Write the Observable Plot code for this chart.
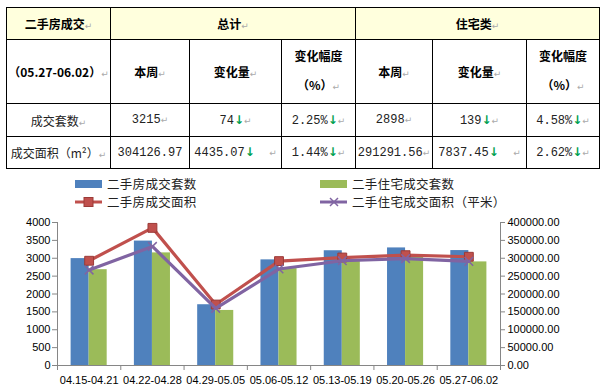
<!DOCTYPE html>
<html>
<head>
<meta charset="utf-8">
<script src="https://cdn.jsdelivr.net/npm/d3@7"></script>
<script src="https://cdn.jsdelivr.net/npm/@observablehq/plot@0.6"></script>
<style>
  html, body { margin: 0; padding: 0; background: #fff; width: 603px; height: 390px; overflow: hidden; }
  #tbl { position: absolute; left: 6px; top: 7px; border-collapse: collapse; table-layout: fixed; width: 593px; }
  #tbl td { border: 1px solid #000; padding: 0; text-align: center; vertical-align: middle; overflow: hidden; white-space: nowrap; }
  #tbl .hd { background: #FFFFDD; font-family: "Noto Sans CJK SC", sans-serif; font-weight: bold; font-size: 12px; color: #000; }
  #tbl .sub { font-family: "Noto Sans CJK SC", sans-serif; font-weight: bold; font-size: 12px; color: #000; }
  #tbl .val { font-family: "Liberation Mono", "Noto Sans CJK SC", monospace; font-size: 12px; color: #222; }
  #tbl .lab { font-family: "Noto Sans CJK SC", sans-serif; font-size: 12px; color: #222; }
  .pm { color: #aaa; font-size: 9px; font-weight: normal; font-family: "DejaVu Sans", sans-serif; }
  .dn { color: #00A050; font-weight: bold; font-family: "DejaVu Sans", sans-serif; font-size: 12px; }
  .lg { position: absolute; font-family: "Noto Sans CJK SC", sans-serif; font-size: 12.5px; line-height: 14px; color: #222; display: flex; align-items: center; height: 14px; letter-spacing: 0.3px; }
  .lg svg { margin-right: 4px; }
  #chart { position: absolute; left: 0; top: 210px; }
</style>
</head>
<body>
<table id="tbl"></table>
<div id="legend"></div>
<div id="chart"></div>
<script>
// ---- table data ----
const tableTitle = "二手房成交";
const period = "（05.27-06.02）";
const groupNames = ["总计", "住宅类"];
const subHeads = ["本周", "变化量", "变化幅度"];
const rowLabels = ["成交套数", "成交面积（m²）"];
const totalThisWeek = ["3215", "304126.97"];
const totalChange = ["74", "4435.07"];
const totalPct = ["2.25%", "1.44%"];
const resThisWeek = ["2898", "291291.56"];
const resChange = ["139", "7837.45"];
const resPct = ["4.58%", "2.62%"];

// ---- chart data ----
const weeks = ["04.15-04.21", "04.22-04.28", "04.29-05.05", "05.06-05.12", "05.13-05.19", "05.20-05.26", "05.27-06.02"];
const totalCount = [2990, 3480, 1700, 2955, 3210, 3289, 3215];
const resCount = [2680, 3150, 1540, 2710, 2940, 3037, 2898];
const totalArea = [293000, 385000, 170500, 292000, 302000, 308562.04, 304126.97];
const resArea = [267000, 333000, 160000, 270000, 293000, 299129.01, 291291.56];
const seriesNames = ["二手房成交套数", "二手住宅成交套数", "二手房成交面积", "二手住宅成交面积（平米）"];
const leftTicks = [0, 500, 1000, 1500, 2000, 2500, 3000, 3500, 4000];

// ---- build table ----
const PM = '<span class="pm">↵</span>';
const DN = '<span class="dn">↓</span>';
const colW = [104, 79, 92, 74, 77, 94, 73];
const rowH = [32, 64, 33, 32];
let html = "<colgroup>" + colW.map(w => `<col style="width:${w}px">`).join("") + "</colgroup>";
html += `<tr style="height:${rowH[0]}px"><td class="hd">${tableTitle}${PM}</td>` +
  groupNames.map(g => `<td class="hd" colspan="3">${g}${PM}</td>`).join("") + "</tr>";
const pctHead = `<div style="line-height:29px">${subHeads[2]}<br>（%）${PM}</div>`;
html += `<tr style="height:${rowH[1]}px"><td class="sub">${period}${PM}</td>` +
  [0, 1].map(() => `<td class="sub">${subHeads[0]}${PM}</td><td class="sub">${subHeads[1]}${PM}</td><td class="sub">${pctHead}</td>`).join("") + "</tr>";
for (let r = 0; r < 2; r++) {
  const sp = r === 1 ? "&nbsp;&nbsp;" : "";
  html += `<tr style="height:${rowH[r + 2]}px"><td class="lab">${rowLabels[r]}${PM}</td>` +
    `<td class="val">${totalThisWeek[r]}${r === 0 ? PM : ""}</td>` +
    `<td class="val">${totalChange[r]}${DN}${sp}${PM}</td>` +
    `<td class="val">${totalPct[r]}${DN}${PM}</td>` +
    `<td class="val">${resThisWeek[r]}${PM}</td>` +
    `<td class="val">${resChange[r]}${DN}${sp}${PM}</td>` +
    `<td class="val">${resPct[r]}${DN}${PM}</td></tr>`;
}
document.getElementById("tbl").innerHTML = html;

// ---- legend ----
const blue = "#4F81BD", green = "#9BBB59", red = "#C0504D", purple = "#8064A2";
const sw = {
  bar: c => `<svg width="28" height="10"><rect x="0" y="1" width="27" height="8" fill="${c}"/></svg>`,
  sq: c => `<svg width="28" height="12"><line x1="0" y1="6" x2="27" y2="6" stroke="${c}" stroke-width="3"/><rect x="9" y="1.5" width="9" height="9" fill="${c}" stroke="#9B3A37" stroke-width="1"/></svg>`,
  x: c => `<svg width="28" height="12"><line x1="0" y1="6" x2="27" y2="6" stroke="${c}" stroke-width="3"/><path d="M10,2L18,10M18,2L10,10" stroke="${c}" stroke-width="1.5"/></svg>`
};
const legendItems = [
  [75, 177, sw.bar(blue), seriesNames[0]],
  [320, 177, sw.bar(green), seriesNames[1]],
  [75, 195, sw.sq(red), seriesNames[2]],
  [320, 195, sw.x(purple), seriesNames[3]]
];
document.getElementById("legend").innerHTML = legendItems
  .map(([l, t, s, n]) => `<div class="lg" style="left:${l}px;top:${t}px">${s}<span>${n}</span></div>`).join("");

// ---- chart ----
const data = weeks.map((w, i) => ({
  i, week: w,
  totalCount: totalCount[i], resCount: resCount[i],
  totalArea: totalArea[i], resArea: resArea[i]
}));
const bw = 0.285; // half group width in band units
const axisGray = "#868686";

const chart = Plot.plot({
  width: 603,
  height: 180,
  marginLeft: 57,
  marginRight: 103,
  marginTop: 12,
  marginBottom: 25,
  style: { fontFamily: "Liberation Sans, sans-serif", fontSize: "11px", color: "#000", background: "transparent", overflow: "visible" },
  x: { domain: [0, 7], axis: null },
  y: { domain: [0, 4000], axis: null },
  marks: [
    Plot.rectY(data, { x1: d => d.i + 0.5 - bw, x2: d => d.i + 0.5, y1: 0, y2: "totalCount", fill: blue }),
    Plot.rectY(data, { x1: d => d.i + 0.5, x2: d => d.i + 0.5 + bw, y1: 0, y2: "resCount", fill: green }),
    Plot.ruleX([0, 7], { stroke: axisGray }),
    Plot.ruleY([0], { stroke: axisGray }),
    Plot.axisY({ anchor: "left", ticks: leftTicks, tickSize: 5, tickPadding: 2, stroke: axisGray, fill: "#000", tickFormat: d => String(d) }),
    Plot.axisY({ anchor: "right", ticks: leftTicks, tickSize: 4, tickPadding: 3, stroke: axisGray, fill: "#000", tickFormat: d => (d * 100).toFixed(2) }),
    Plot.axisX({ ticks: d3.range(8), tickSize: 5, stroke: axisGray, tickFormat: () => "" }),
    Plot.axisX({ ticks: weeks.map((w, i) => i + 0.5), tickSize: 0, tickPadding: 11, fill: "#000", tickFormat: d => weeks[Math.floor(d)] }),
    Plot.line(data, { x: d => d.i + 0.5, y: d => d.totalArea / 100, stroke: red, strokeWidth: 3.2 }),
    Plot.dot(data, { x: d => d.i + 0.5, y: d => d.totalArea / 100, symbol: "square", r: 5, fill: red, stroke: "#9B3A37", strokeWidth: 1 }),
    Plot.line(data, { x: d => d.i + 0.5, y: d => d.resArea / 100, stroke: purple, strokeWidth: 3.2 }),
    Plot.dot(data, { x: d => d.i + 0.5, y: d => d.resArea / 100, symbol: "times", r: 4, stroke: purple, strokeWidth: 1.5 })
  ]
});
document.getElementById("chart").appendChild(chart);
</script>
</body>
</html>
